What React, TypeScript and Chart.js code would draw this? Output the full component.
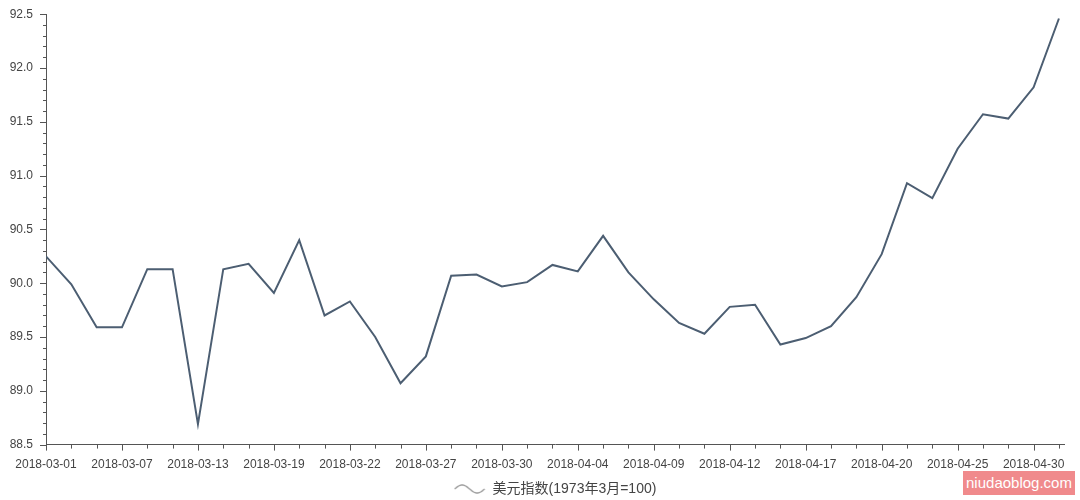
import React, { useEffect, useRef } from "react";
import { Chart, registerables } from "chart.js";

Chart.register(...registerables);

const dates = [
  "2018-03-01", "2018-03-02", "2018-03-06", "2018-03-07", "2018-03-09", "2018-03-12",
  "2018-03-13", "2018-03-14", "2018-03-16", "2018-03-19", "2018-03-20", "2018-03-21",
  "2018-03-22", "2018-03-23", "2018-03-26", "2018-03-27", "2018-03-28", "2018-03-29",
  "2018-03-30", "2018-04-02", "2018-04-03", "2018-04-04", "2018-04-05", "2018-04-06",
  "2018-04-09", "2018-04-10", "2018-04-11", "2018-04-12", "2018-04-13", "2018-04-16",
  "2018-04-17", "2018-04-18", "2018-04-19", "2018-04-20", "2018-04-23", "2018-04-24",
  "2018-04-25", "2018-04-26", "2018-04-27", "2018-04-30", "2018-05-01",
];

const dollarIndex = [
  90.25, 89.99, 89.59, 89.59, 90.13, 90.13, 88.69, 90.13, 90.18, 89.91,
  90.40, 89.70, 89.83, 89.50, 89.07, 89.32, 90.07, 90.08, 89.97, 90.01,
  90.17, 90.11, 90.44, 90.10, 89.85, 89.63, 89.53, 89.78, 89.80, 89.43,
  89.49, 89.60, 89.87, 90.27, 90.93, 90.79, 91.25, 91.57, 91.53, 91.82,
  92.46,
];

const seriesLabel = "美元指数(1973年3月=100)";
const yMin = 88.5;
const yMax = 92.5;
const labelEvery = 3;

const FONT = "'Liberation Sans', Arial, 'Noto Sans CJK SC', sans-serif";
const AXIS = "#555555";
const TEXT = "#444444";
const LINE = "#4c5e72";

export default function App() {
  const ref = useRef<HTMLCanvasElement>(null);

  useEffect(() => {
    document.body.style.margin = "0";
    const canvas = ref.current;
    if (!canvas) return;

    const icon = document.createElement("canvas");
    icon.width = 32;
    icon.height = 12;
    const ic = icon.getContext("2d")!;
    ic.strokeStyle = "#9b9b9b";
    ic.lineWidth = 1.3;
    ic.beginPath();
    for (let t = 0; t <= 30; t++) {
      const x = 1 + t;
      const y = 6 - 4 * Math.sin((t / 30) * 2 * Math.PI);
      if (t === 0) ic.moveTo(x, y);
      else ic.lineTo(x, y);
    }
    ic.stroke();

    const tickMarks = {
      id: "tickMarks",
      afterDraw(chart: any) {
        const { ctx, chartArea, scales } = chart;
        const xs = scales.x;
        const ys = scales.y;
        ctx.save();
        ctx.strokeStyle = AXIS;
        ctx.lineWidth = 1;
        ctx.beginPath();
        dates.forEach((_, i) => {
          const x = Math.round(xs.getPixelForValue(i)) + 0.5;
          const len = i % labelEvery === 0 ? 6 : 4;
          ctx.moveTo(x, chartArea.bottom);
          ctx.lineTo(x, chartArea.bottom + len);
        });
        for (let k = Math.round(yMin * 10); k <= Math.round(yMax * 10); k++) {
          const y = Math.round(ys.getPixelForValue(k / 10)) + 0.5;
          const len = k % 5 === 0 ? 6 : 3;
          ctx.moveTo(chartArea.left - len, y);
          ctx.lineTo(chartArea.left, y);
        }
        ctx.stroke();
        ctx.restore();
      },
    };

    const chart = new Chart(canvas, {
      type: "line",
      data: {
        datasets: [
          {
            label: seriesLabel,
            data: dollarIndex.map((v, i) => ({ x: i, y: v })),
            borderColor: LINE,
            backgroundColor: LINE,
            borderWidth: 2,
            pointRadius: 0,
            tension: 0,
            pointStyle: icon as any,
          },
        ],
      },
      options: {
        animation: false,
        responsive: false,
        maintainAspectRatio: false,
        layout: { padding: { top: 12, right: 16, left: 0, bottom: -6 } },
        plugins: {
          tooltip: { enabled: false },
          legend: {
            position: "bottom",
            fullSize: false,
            labels: {
              usePointStyle: true,
              pointStyleWidth: 32,
              color: TEXT,
              padding: 3,
              font: { family: FONT, size: 14 },
            },
          },
        },
        scales: {
          x: {
            type: "linear",
            min: 0,
            max: dates.length - 1 + 0.2,
            border: { display: true, color: AXIS, width: 1 },
            grid: { drawOnChartArea: false, drawTicks: true, tickLength: 6, tickColor: "rgba(0,0,0,0)" },
            ticks: {
              stepSize: 1,
              autoSkip: false,
              maxRotation: 0,
              minRotation: 0,
              padding: 7,
              color: TEXT,
              font: { family: FONT, size: 12 },
              callback: (v: any) => {
                const n = Number(v);
                return Number.isInteger(n) && n % labelEvery === 0 ? dates[n] : "";
              },
            },
          },
          y: {
            type: "linear",
            min: yMin,
            max: yMax,
            border: { display: true, color: AXIS, width: 1 },
            grid: { drawOnChartArea: false, drawTicks: true, tickLength: 6, tickColor: "rgba(0,0,0,0)" },
            afterFit: (scale: any) => {
              scale.width = 46;
            },
            ticks: {
              stepSize: 0.1,
              autoSkip: false,
              padding: 7,
              color: TEXT,
              font: { family: FONT, size: 12 },
              callback: (v: any) => {
                const r = Math.round(Number(v) * 10);
                return r % 5 === 0 ? (r / 10).toFixed(1) : "";
              },
            },
          },
        },
      },
      plugins: [tickMarks],
    });

    return () => chart.destroy();
  }, []);

  return (
    <div style={{ position: "relative", width: 1080, height: 500, background: "#ffffff" }}>
      <canvas ref={ref} width={1080} height={500} style={{ display: "block", width: 1080, height: 500 }} />
      <div
        style={{
          position: "absolute",
          left: 963,
          top: 471,
          width: 112,
          height: 24,
          background: "#f08a8c",
          color: "#ffffff",
          fontFamily: "'Liberation Sans', Arial, sans-serif",
          fontSize: 15,
          lineHeight: "24px",
          textAlign: "center",
          whiteSpace: "nowrap",
          overflow: "hidden",
        }}
      >
        niudaoblog.com
      </div>
    </div>
  );
}
